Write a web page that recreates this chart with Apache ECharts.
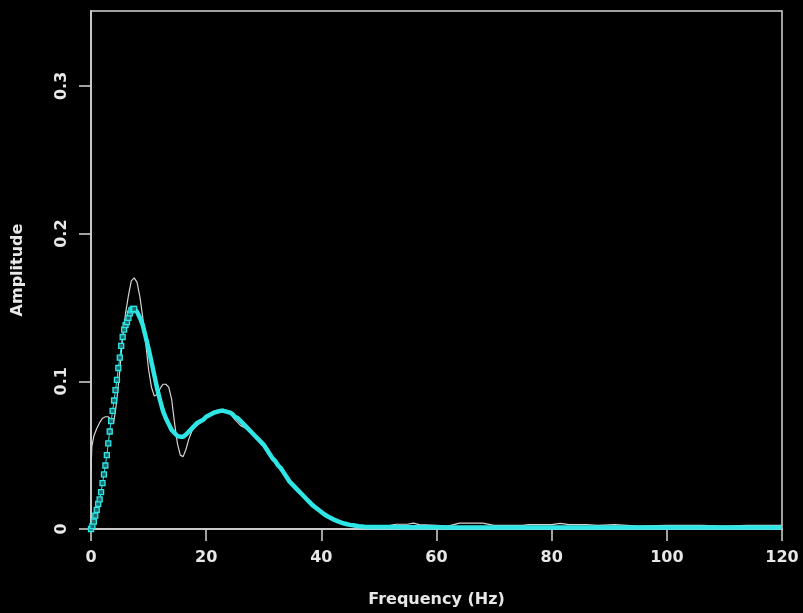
<!DOCTYPE html>
<html>
<head>
<meta charset="utf-8">
<script src="https://cdn.jsdelivr.net/npm/echarts@6/dist/echarts.min.js"></script>
<style>
  html, body { margin: 0; padding: 0; background: #000; }
  #chart { width: 803px; height: 613px; }
</style>
</head>
<body>
<div id="chart"></div>
<script>
// raw spectrum (thin white line)
const whiteFreq = [0, 0.15, 0.5, 1.0, 1.5, 2.0, 2.5, 3.0, 3.5, 3.9, 4.25, 4.5, 5.0, 5.5, 6.0, 6.5, 7.0, 7.5, 8.0, 8.5,
  9.0, 9.5, 10.0, 10.5, 11.0, 11.5, 12.0, 12.5, 13.0, 13.5, 14.0, 14.5, 15.0, 15.5, 16.0, 16.5, 17.0, 17.5, 18, 19,
  20, 21, 22, 23, 24, 25, 26, 27, 28, 29, 30, 31, 32, 33, 34, 35, 36, 37, 38, 39,
  40, 41, 42, 43, 44, 45, 46, 48, 50, 52, 53, 55, 56, 57, 60, 62, 64, 68, 70, 75,
  76, 80, 81.5, 83, 86, 88, 91, 95, 100, 106, 110, 114, 120];
const whiteAmp = [0.040, 0.056, 0.063, 0.068, 0.072, 0.075, 0.076, 0.076, 0.074, 0.0716, 0.080, 0.088, 0.107, 0.130, 0.146, 0.158, 0.168, 0.170, 0.167, 0.157,
  0.143, 0.126, 0.108, 0.096, 0.090, 0.091, 0.095, 0.098, 0.098, 0.096, 0.088, 0.072, 0.058, 0.050, 0.049, 0.054, 0.061, 0.066, 0.069, 0.072,
  0.076, 0.078, 0.0805, 0.081, 0.079, 0.074, 0.070, 0.068, 0.065, 0.061, 0.057, 0.051, 0.046, 0.041, 0.036, 0.031, 0.026, 0.021, 0.017, 0.014,
  0.011, 0.0085, 0.0065, 0.005, 0.004, 0.003, 0.0025, 0.002, 0.002, 0.0025, 0.0032, 0.0032, 0.004, 0.003, 0.0025, 0.002, 0.004, 0.004, 0.0025, 0.0025,
  0.003, 0.003, 0.0038, 0.003, 0.003, 0.0025, 0.003, 0.002, 0.0025, 0.0025, 0.002, 0.0025, 0.0025];

// smoothed spectrum, rising part (square markers), every 0.25 Hz from 0
const riseStart = 0, riseStep = 0.25;
const riseAmp = [0.000, 0.002, 0.005, 0.009, 0.013, 0.017, 0.020, 0.025, 0.031, 0.037, 0.043, 0.050, 0.058, 0.066, 0.073, 0.080,
  0.087, 0.094, 0.101, 0.109, 0.116, 0.124, 0.130, 0.135, 0.138, 0.140, 0.143, 0.146, 0.148, 0.149, 0.149];

// smoothed spectrum, rest, every 0.5 Hz from 7.5 to 48
const midStart = 7.5, midStep = 0.5;
const midAmp = [0.149, 0.147, 0.143, 0.138, 0.130, 0.122, 0.113, 0.104, 0.095, 0.087, 0.080, 0.075, 0.071, 0.067, 0.065, 0.063,
  0.0625, 0.0625, 0.064, 0.066, 0.068, 0.070, 0.072, 0.073, 0.074, 0.076, 0.077, 0.078, 0.079, 0.0795, 0.080, 0.080,
  0.0795, 0.079, 0.078, 0.076, 0.075, 0.073, 0.071, 0.069, 0.067, 0.065, 0.063, 0.061, 0.059, 0.057, 0.054, 0.051,
  0.048, 0.046, 0.043, 0.041, 0.038, 0.035, 0.032, 0.030, 0.028, 0.026, 0.024, 0.022, 0.020, 0.018, 0.016, 0.0145,
  0.013, 0.0115, 0.010, 0.0088, 0.0077, 0.0067, 0.0058, 0.005, 0.0043, 0.0037, 0.0032, 0.0028, 0.0025, 0.0022, 0.0019, 0.0017,
  0.0015, 0.0014];

// flat tail, every 2 Hz from 50 to 120
const tailStart = 50, tailStep = 2;
const tailAmp = [0.0013, 0.0013, 0.0012, 0.0012, 0.0012, 0.0012, 0.0011, 0.0011, 0.0011, 0.0011, 0.0011, 0.0010, 0.0010, 0.0010, 0.0010, 0.0010, 0.0010, 0.0010,
  0.0010, 0.0010, 0.0010, 0.0010, 0.0010, 0.0010, 0.0010, 0.0010, 0.0010, 0.0010, 0.0010, 0.0010, 0.0010, 0.0010, 0.0010, 0.0010, 0.0010, 0.0010];

const yTicks = [0, 0.1, 0.2, 0.3];

function onGrid(start, step, values) {
  return values.map((v, i) => [start + i * step, v]);
}

const whiteData = whiteFreq.map((f, i) => [f, whiteAmp[i]]);
const riseData = onGrid(riseStart, riseStep, riseAmp);
const restData = onGrid(midStart, midStep, midAmp).concat(onGrid(tailStart, tailStep, tailAmp));

const axisColor = '#d6d6d6';
const cyan = '#2fe6e6';
const txt = { color: '#e8e8e8', fontFamily: 'DejaVu Sans', fontWeight: 'bold', fontSize: 16 };

const chart = echarts.init(document.getElementById('chart'));
chart.setOption({
  backgroundColor: '#000',
  animation: false,
  grid: {
    left: 91, top: 11, right: 21, bottom: 84,
    show: true, borderColor: axisColor, borderWidth: 1.5
  },
  xAxis: {
    type: 'value', min: 0, max: 120, interval: 20,
    name: 'Frequency (Hz)', nameLocation: 'middle', nameGap: 63,
    nameTextStyle: txt,
    axisLine: { show: true, lineStyle: { color: axisColor, width: 1.5 } },
    axisTick: { show: true, length: 12, lineStyle: { color: axisColor, width: 1.5 } },
    axisLabel: Object.assign({ margin: 21 }, txt),
    splitLine: { show: false }
  },
  yAxis: {
    type: 'value', min: 0, max: 0.3507, interval: 0.1,
    name: 'Amplitude', nameLocation: 'middle', nameGap: 65, nameRotate: 90,
    nameTextStyle: txt,
    axisLine: { show: true, lineStyle: { color: axisColor, width: 1.5 } },
    axisTick: { show: true, length: 12, customValues: yTicks, lineStyle: { color: axisColor, width: 1.5 } },
    axisLabel: Object.assign({
      margin: 21, rotate: 90, customValues: yTicks,
      formatter: v => v === 0 ? '0' : v.toFixed(1)
    }, txt),
    splitLine: { show: false }
  },
  series: [
    {
      type: 'line', data: whiteData, symbol: 'none', z: 2,
      lineStyle: { color: '#d4d4d4', width: 1.2 }
    },
    {
      type: 'line', data: riseData, z: 3,
      symbol: 'rect', symbolSize: 5, showAllSymbol: true,
      itemStyle: { color: '#1e6a6a', borderColor: cyan, borderWidth: 1.3 },
      lineStyle: { color: cyan, width: 1 }
    },
    {
      type: 'line', data: restData, symbol: 'none', z: 3,
      lineStyle: { color: cyan, width: 4.5 }
    }
  ]
});
</script>
</body>
</html>
